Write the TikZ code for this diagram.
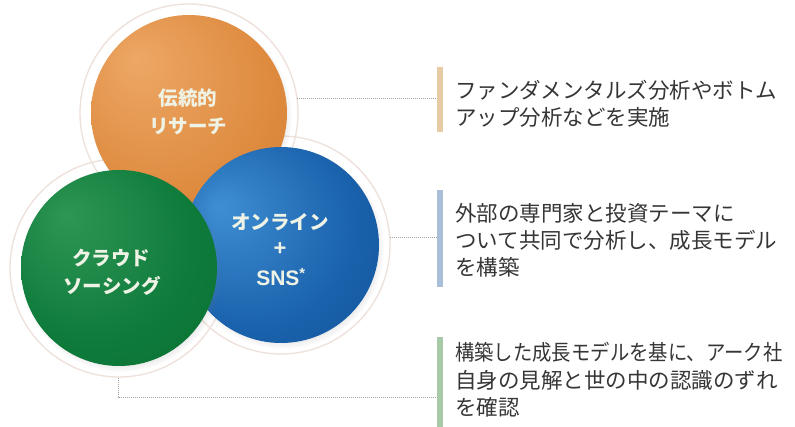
\documentclass[tikz,border=0pt]{standalone}
\usepackage{fontspec}
\newfontfamily\jp{Noto Sans CJK JP}
\newfontfamily\lat{Liberation Sans}
\usetikzlibrary{shadows,fadings}
\definecolor{orhi}{HTML}{EDA866}
\definecolor{ormain}{HTML}{DE8A3E}
\definecolor{oredge}{HTML}{CC762E}
\definecolor{blhi}{HTML}{3F8ED3}
\definecolor{blmain}{HTML}{1A62AC}
\definecolor{bledge}{HTML}{0E4D92}
\definecolor{grhi}{HTML}{2E9655}
\definecolor{grmain}{HTML}{0E7B3B}
\definecolor{gredge}{HTML}{08692F}
\definecolor{ringc}{HTML}{EEE0DA}
\definecolor{barone}{HTML}{E7CCA3}
\definecolor{bartwo}{HTML}{A8BFD7}
\definecolor{barthree}{HTML}{A7C9A7}
\definecolor{txtc}{HTML}{363636}
\definecolor{balltxt}{HTML}{EFF3E6}
\definecolor{linkc}{HTML}{A0A0A0}
\pgfdeclareradialshading{orangeball}{\pgfpoint{-14bp}{14bp}}{color(0bp)=(orhi); color(28bp)=(ormain); color(50bp)=(oredge)}
\pgfdeclareradialshading{blueball}{\pgfpoint{-16bp}{10bp}}{color(0bp)=(blhi); color(26bp)=(blmain); color(50bp)=(bledge)}
\pgfdeclareradialshading{greenball}{\pgfpoint{-14bp}{14bp}}{color(0bp)=(grhi); color(26bp)=(grmain); color(50bp)=(gredge)}
\begin{document}
\begin{tikzpicture}[x=1pt,y=-1pt,
  ball/.style={circle, inner sep=0pt, minimum size=196pt, draw=none,
    circular drop shadow={shadow scale=1.03, shadow xshift=2pt, shadow yshift=-3pt, opacity=0.3}},
  ringnode/.style={circle, inner sep=0pt, minimum size=218pt, draw=ringc, line width=1.3pt},
  balltext/.style={text=balltxt, font=\jp\bfseries\fontsize{19.5}{23}\selectfont, align=center, inner sep=0pt},
  bar/.style={rectangle, inner sep=0pt, minimum width=6pt, draw=none},
  desc/.style={anchor=west, inner sep=0pt, text=txtc, font=\jp\fontsize{21.5}{26}\selectfont},
  link/.style={draw=linkc, line width=1pt, densely dotted}]
\useasboundingbox[fill=white] (0,0) rectangle (795,427);
% faint outer rings
\node[ringnode] (oring) at (189,113) {};
\node[ringnode] (bring) at (281,245) {};
\node[ringnode] (gring) at (119,268) {};
% circles
\node[ball, shading=orangeball] (orange) at (189,113) {};
\node[ball, shading=blueball] (blue) at (281,245) {};
\node[ball, shading=greenball] (green) at (119,268) {};
% circle labels
\node[balltext] (olab1) at (188,98) {伝統的};
\node[balltext] (olab2) at (188,126) {リサーチ};
\node[balltext] (blab1) at (280,222) {オンライン};
\node[balltext, font=\lat\bfseries\fontsize{22}{24}\selectfont] (blab2) at (280,249) {+};
\node[balltext, font=\lat\bfseries\fontsize{21}{24}\selectfont] (blab3) at (281,277) {SNS\textsuperscript{*}};
\node[balltext] (glab1) at (111,258) {クラウド};
\node[balltext] (glab2) at (112,286) {ソーシング};
% bars
\node[bar, fill=barone, minimum height=65pt] (bar1) at (440,99.5) {};
\node[bar, fill=bartwo, minimum height=97pt] (bar2) at (440,238.5) {};
\node[bar, fill=barthree, minimum height=91pt] (bar3) at (440,382.5) {};
% connectors
\coordinate (c1) at (297,99);
\coordinate (c2) at (390,238);
\coordinate (c3) at (118,378);
\coordinate (c3b) at (118,397);
\draw[link] (c1) -- (bar1.west |- c1);
\draw[link] (c2) -- (bar2.west |- c2);
\draw[link] (c3) -- (c3b) -- (bar3.west |- c3b);
% descriptions
\node[desc] (t11) at (455,90) {ファンダメンタルズ分析やボトム};
\node[desc] (t12) at (455,117) {アップ分析などを実施};
\node[desc] (t21) at (455,213) {外部の専門家と投資テーマに};
\node[desc] (t22) at (455,240) {ついて共同で分析し、成長モデル};
\node[desc] (t23) at (455,267) {を構築};
\node[desc] (t31) at (455,352) {\scalebox{0.9}[1]{構築した成長モデルを基に、アーク社}};
\node[desc] (t32) at (455,380) {自身の見解と世の中の認識のずれ};
\node[desc] (t33) at (455,407) {を確認};
\end{tikzpicture}
\end{document}
